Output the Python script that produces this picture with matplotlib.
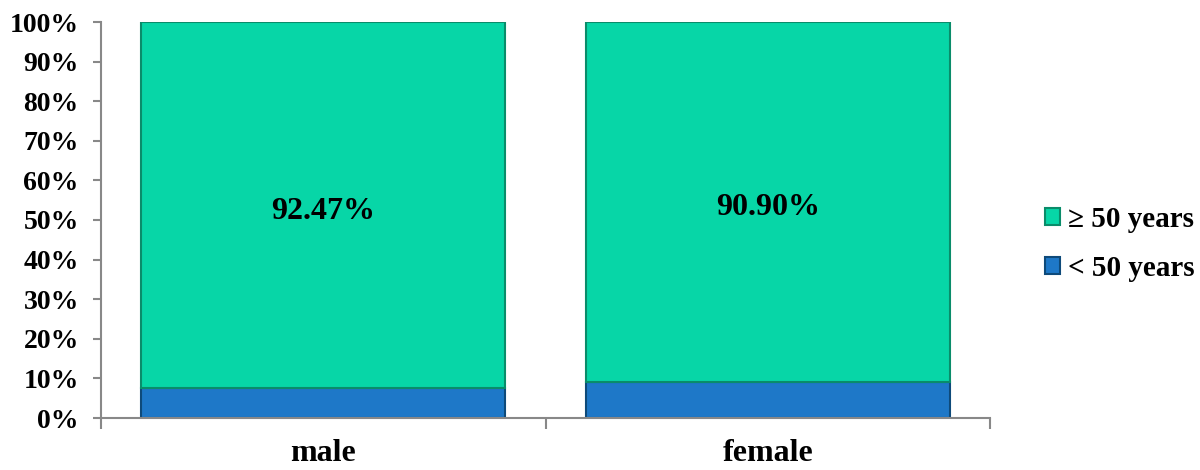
import matplotlib.pyplot as plt
import numpy as np

# data
groups = ['male', 'female']
under_50 = [7.53, 9.10]
over_50 = [92.47, 90.90]
labels = ['\u2265 50 years', '< 50 years']

plt.rcParams['font.family'] = ['Liberation Serif', 'DejaVu Serif']
plt.rcParams['font.weight'] = 'bold'

fig = plt.figure(figsize=(12, 4.7), dpi=100)
ax = fig.add_axes([101/1200, 1 - 418/470, (990-101)/1200, (418-22)/470])

x = np.arange(len(groups))
green = '#07D6A7'
blue = '#1E78C8'
b1 = ax.bar(x, under_50, width=0.82, color=blue, edgecolor='#0E4A7A', linewidth=1.5)
b2 = ax.bar(x, over_50, bottom=under_50, width=0.82, color=green, edgecolor='#0A8C6A', linewidth=1.5)

for i, v in enumerate(over_50):
    ax.text(x[i], under_50[i] + v * 0.5 - 1.5, f'{v:.2f}%', ha='center', va='center',
            fontsize=23, fontweight='bold')

ax.set_xlim(-0.5, 1.5)
ax.set_ylim(0, 100)
ax.set_yticks(np.arange(0, 101, 10))
ax.set_yticklabels([f'{t}%' for t in range(0, 101, 10)], fontsize=20, fontweight='bold')
ax.set_xticks(x)
ax.set_xticklabels(groups, fontsize=23, fontweight='bold')
ax.tick_params(axis='x', length=0, pad=15)
ax.set_xticks([-0.5, 0.5, 1.5], minor=True)
ax.tick_params(axis='x', which='minor', length=8, color='#888888', width=1.5)
ax.tick_params(axis='y', length=6, color='#888888', width=1.5, pad=10)
for s in ['top', 'right']:
    ax.spines[s].set_visible(False)
for s in ['left', 'bottom']:
    ax.spines[s].set_color('#888888')
    ax.spines[s].set_linewidth(1.5)

leg = ax.legend([b2, b1], labels, loc='center left', bbox_to_anchor=(1.039, 0.44),
                frameon=False, handlelength=0.5, handleheight=0.5, borderpad=0.2,
                handletextpad=0.3, labelspacing=0.75, prop={'weight': 'bold', 'size': 21})

fig.savefig('out.png', dpi=100)
